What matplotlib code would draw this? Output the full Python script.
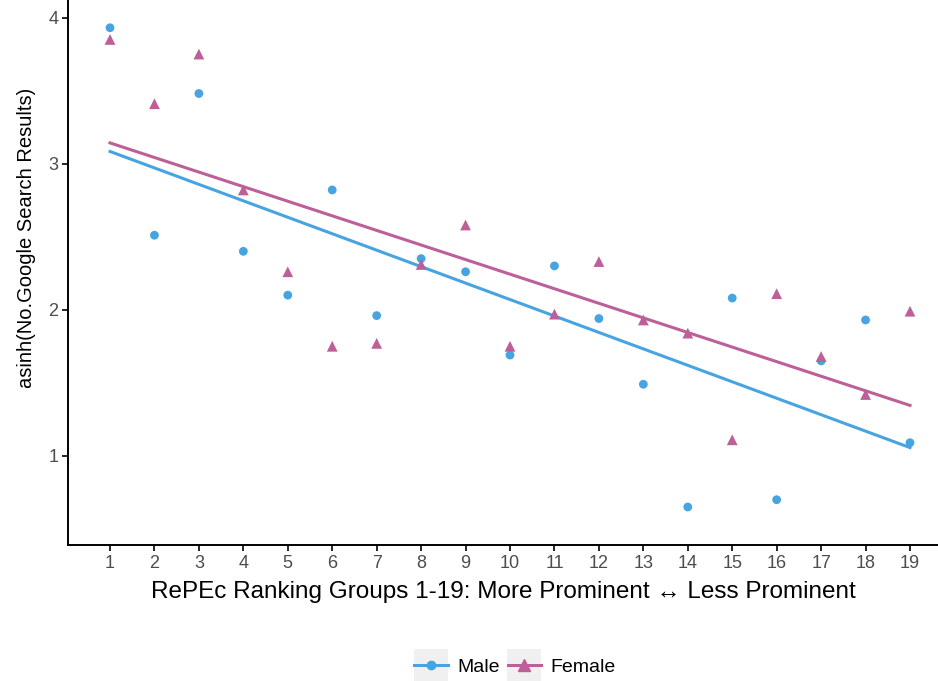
import numpy as np
import matplotlib
matplotlib.use("Agg")
import matplotlib.pyplot as plt
from matplotlib.lines import Line2D
from matplotlib.patches import Rectangle

plt.rcParams['font.family'] = ['Liberation Sans', 'DejaVu Sans']

# Ranking groups and asinh(search results) per gender
groups = list(range(1, 20))
male = [3.93, 2.51, 3.48, 2.40, 2.10, 2.82, 1.96, 2.35, 2.26, 1.69,
        2.30, 1.94, 1.49, 0.65, 2.08, 0.70, 1.65, 1.93, 1.09]
female = [3.85, 3.41, 3.75, 2.82, 2.26, 1.75, 1.77, 2.31, 2.58, 1.75,
          1.97, 2.33, 1.93, 1.84, 1.11, 2.11, 1.68, 1.42, 1.99]

blue = "#47A4E1"
pink = "#BD5F98"

fig = plt.figure(figsize=(9.38, 6.81), dpi=100)
ax = fig.add_axes([68 / 938, 1 - 545 / 681, 870 / 938, 545 / 681])

x = np.array(groups)
for vals, col, mk, sz in [(male, blue, "o", 40), (female, pink, "^", 60)]:
    y = np.array(vals)
    ax.scatter(x, y, color=col, marker=mk, s=sz, edgecolors="none", zorder=3)
    # linear fit, like geom_smooth(method = "lm")
    b, a = np.polyfit(x, y, 1)
    ax.plot([x.min(), x.max()], [a + b * x.min(), a + b * x.max()],
            color=col, lw=2.2, zorder=2)

ax.set_xlim(0.055, 19.63)
ax.set_ylim(0.39, 4.12)
ax.set_xticks(groups)
ax.set_yticks([1, 2, 3, 4])
for s in ["top", "right"]:
    ax.spines[s].set_visible(False)
for s in ["left", "bottom"]:
    ax.spines[s].set_linewidth(1.4)
ax.tick_params(axis="both", length=4, width=1.2, labelsize=13, colors="black",
               labelcolor="#4d4d4d", pad=3)

ax.set_xlabel("RePEc Ranking Groups 1-19: More Prominent \u2194 Less Prominent",
              fontsize=17.5, labelpad=7)
ax.set_ylabel("asinh(No.Google Search Results)", fontsize=14.5, labelpad=9)
ax.yaxis.label.set_y(0.563)

handles = [Line2D([0], [0], color=blue, lw=2.2, marker="o", markersize=6),
           Line2D([0], [0], color=pink, lw=2.2, marker="^", markersize=8)]
leg = fig.legend(handles, ["Male", "Female"], loc="center",
                 bbox_to_anchor=(515 / 938, 1 - 667 / 681), ncol=2, frameon=False,
                 fontsize=14, handlelength=1.7, handletextpad=0.5, columnspacing=0.4)

fig.canvas.draw()
for h in leg.legend_handles:
    bb = h.get_window_extent(fig.canvas.get_renderer())
    cx = (bb.x0 + bb.x1) / 2
    cy = (bb.y0 + bb.y1) / 2
    rect = Rectangle(((cx - 17) / 938, (cy - 16) / 681), 34 / 938, 32 / 681,
                     transform=fig.transFigure, facecolor="#f0f0f0",
                     edgecolor="none", zorder=0)
    fig.patches.append(rect)

fig.savefig("out.png", dpi=100)
